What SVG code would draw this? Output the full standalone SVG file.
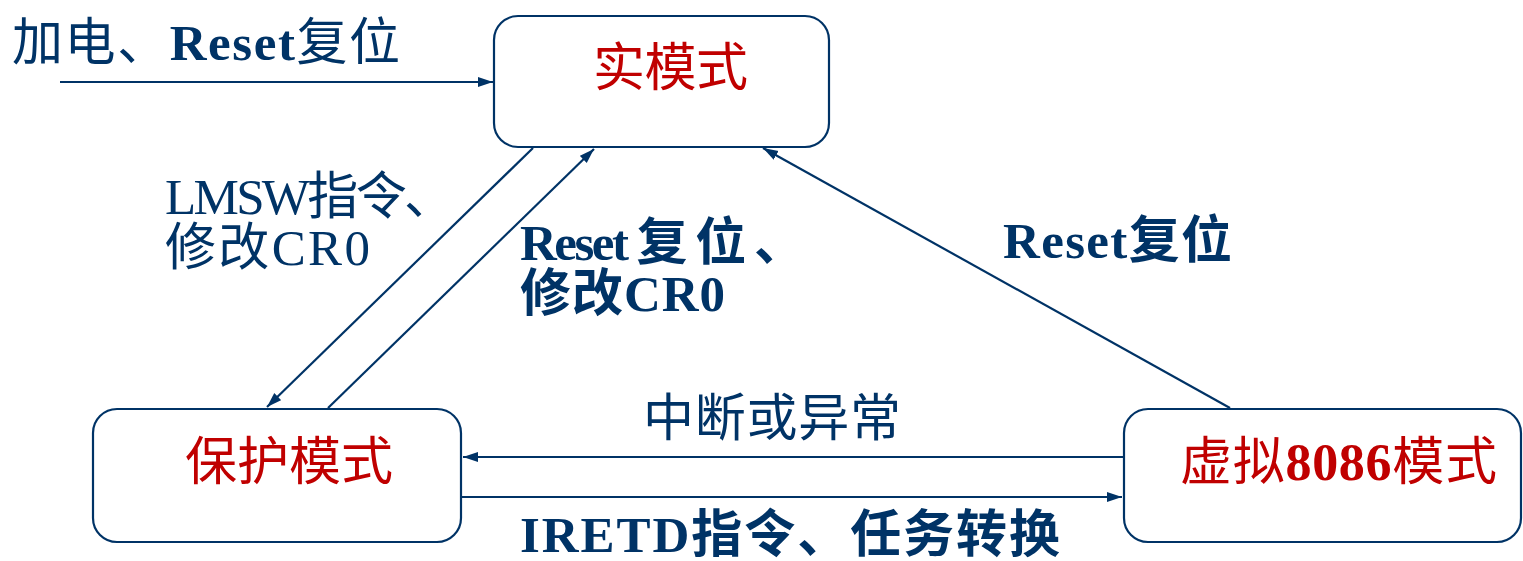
<svg xmlns="http://www.w3.org/2000/svg" width="1523" height="561" viewBox="0 0 1523 561">
<style>
.box{fill:#ffffff;stroke:#003366;stroke-width:2.2}
.node{font-family:"Liberation Serif","Noto Sans CJK SC",serif;font-size:52px;fill:#c00000}
.lbl{font-family:"Liberation Serif","Noto Sans CJK SC",serif;font-size:51px;fill:#003366}
.b{font-weight:bold}
.edge{stroke:#003366;stroke-width:2.2;fill:none}
</style>
<defs>
<marker id="ah" markerUnits="userSpaceOnUse" markerWidth="16" markerHeight="12" refX="15" refY="5" orient="auto">
<path d="M0,0 L15,5 L0,10 z" fill="#003366"/>
</marker>
</defs>
<rect width="1523" height="561" fill="#ffffff"/>
<g id="real">
<rect class="box" x="494" y="16" width="335" height="131" rx="24"/>
<text class="node" x="593" y="86" textLength="155">实模式</text>
</g>
<g id="protected">
<rect class="box" x="93" y="409" width="368" height="133" rx="24"/>
<text class="node" x="185" y="480" textLength="208">保护模式</text>
</g>
<g id="v8086">
<rect class="box" x="1124" y="409" width="397" height="133" rx="24"/>
<text class="node" x="1180" y="480" textLength="317"><tspan>虚拟</tspan><tspan class="b">8086</tspan><tspan>模式</tspan></text>
</g>
<g id="connectors">
<line class="edge" x1="60" y1="82" x2="493" y2="82" marker-end="url(#ah)"/>
<line class="edge" x1="533" y1="148" x2="267" y2="407" marker-end="url(#ah)"/>
<line class="edge" x1="328" y1="408" x2="594" y2="149" marker-end="url(#ah)"/>
<line class="edge" x1="1230" y1="408" x2="763" y2="148" marker-end="url(#ah)"/>
<line class="edge" x1="1124" y1="457" x2="463" y2="457" marker-end="url(#ah)"/>
<line class="edge" x1="461" y1="497" x2="1122" y2="497" marker-end="url(#ah)"/>
</g>
<g id="labels">
<text class="lbl" x="12" y="60" textLength="388">加电、<tspan class="b">Reset</tspan>复位</text>
<text class="lbl" x="165" y="214" textLength="290">LMSW指令、</text>
<text class="lbl" x="165" y="265" textLength="205">修改CR0</text>
<text class="lbl b" x="520" y="260" textLength="285">Reset 复 位 、</text>
<text class="lbl b" x="520" y="311" textLength="205">修改CR0</text>
<text class="lbl b" x="1003" y="258" textLength="229">Reset复位</text>
<text class="lbl" x="643" y="436" textLength="258">中断或异常</text>
<text class="lbl b" x="520" y="552" textLength="540">IRETD指令、任务转换</text>
</g>
</svg>
